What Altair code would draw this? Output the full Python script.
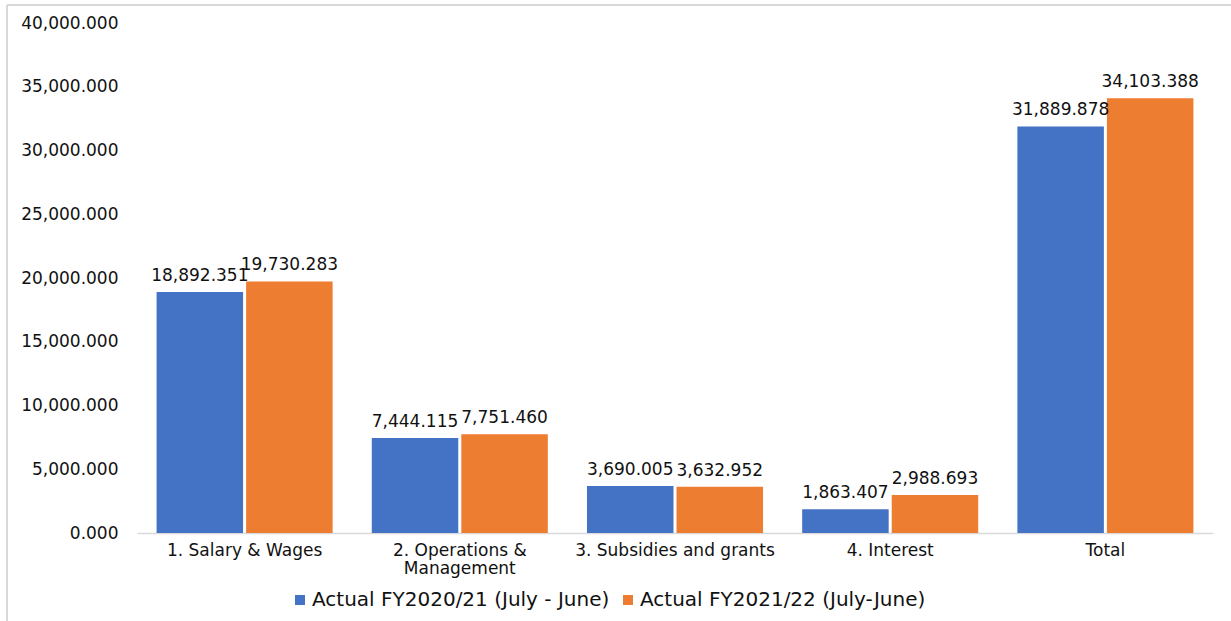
import altair as alt
import pandas as pd

categories = ["1. Salary & Wages", "2. Operations & Management", "3. Subsidies and grants", "4. Interest", "Total"]
series_names = ["Actual FY2020/21 (July - June)", "Actual FY2021/22 (July-June)"]
fy2021 = [18892.351, 7444.115, 3690.005, 1863.407, 31889.878]
fy2122 = [19730.283, 7751.460, 3632.952, 2988.693, 34103.388]
y_ticks = [0, 5000, 10000, 15000, 20000, 25000, 30000, 35000, 40000]
colors = ["#4472C4", "#ED7D31"]

rows = []
for c, a, b in zip(categories, fy2021, fy2122):
    rows.append({"category": c, "series": series_names[0], "value": a})
    rows.append({"category": c, "series": series_names[1], "value": b})
df = pd.DataFrame(rows)

FONT = "DejaVu Sans"
TXT = "#111111"

x_enc = alt.X(
    "category:N",
    sort=categories,
    scale=alt.Scale(paddingInner=0.182, paddingOuter=0.091),
    axis=alt.Axis(
        title=None,
        labelAngle=0,
        ticks=False,
        domainColor="#d9d9d9",
        domainWidth=1.5,
        labelPadding=9,
        labelFontSize=17,
        labelFont=FONT,
        labelColor=TXT,
        labelLineHeight=18,
        labelLimit=400,
        labelExpr="datum.label == '2. Operations & Management' ? ['2. Operations &', 'Management'] : datum.label",
    ),
)
xo_enc = alt.XOffset("series:N", sort=series_names, scale=alt.Scale(paddingInner=0.034, paddingOuter=0))
y_enc = alt.Y(
    "value:Q",
    scale=alt.Scale(domain=[0, 40000], nice=False),
    axis=alt.Axis(
        title=None,
        values=y_ticks,
        format=",.3f",
        domain=False,
        ticks=False,
        grid=False,
        labelPadding=19,
        labelFontSize=17,
        labelFont=FONT,
        labelColor=TXT,
    ),
)

base = alt.Chart(df)
bars = base.mark_bar().encode(
    x=x_enc,
    xOffset=xo_enc,
    y=y_enc,
    color=alt.Color(
        "series:N",
        sort=series_names,
        scale=alt.Scale(domain=series_names, range=colors),
        legend=alt.Legend(
            title=None,
            orient="none",
            direction="horizontal",
            legendX=153,
            legendY=567,
            symbolType="square",
            symbolSize=100,
            symbolStrokeWidth=0,
            labelFontSize=20,
            labelFont=FONT,
            labelColor=TXT,
            labelOffset=2,
            columnPadding=8,
            padding=0,
            labelLimit=400,
        ),
    ),
)
labels = base.mark_text(
    baseline="alphabetic", dy=-11, fontSize=17, font=FONT, color=TXT
).encode(
    x=alt.X("category:N", sort=categories),
    xOffset=alt.XOffset("series:N", sort=series_names),
    y="value:Q",
    text=alt.Text("value:Q", format=",.3f"),
)

one = pd.DataFrame({"k": [0]})
border_left = alt.Chart(one).mark_rule(color="#d9d9d9", strokeWidth=2).encode(
    x=alt.value(-130), y=alt.value(-18), y2=alt.value(640)
)
border_top = alt.Chart(one).mark_rule(color="#d9d9d9", strokeWidth=2).encode(
    x=alt.value(-130), x2=alt.value(1120), y=alt.value(-18)
)

chart = alt.layer(bars, labels, border_left, border_top).properties(
    width=1076,
    height=510,
    autosize=alt.AutoSizeParams(type="none"),
    padding={"left": 137, "top": 23, "right": 18, "bottom": 88},
    background="white",
).configure_view(stroke=None)

chart.save("out.html", embed_options={"renderer": "svg", "actions": False})
